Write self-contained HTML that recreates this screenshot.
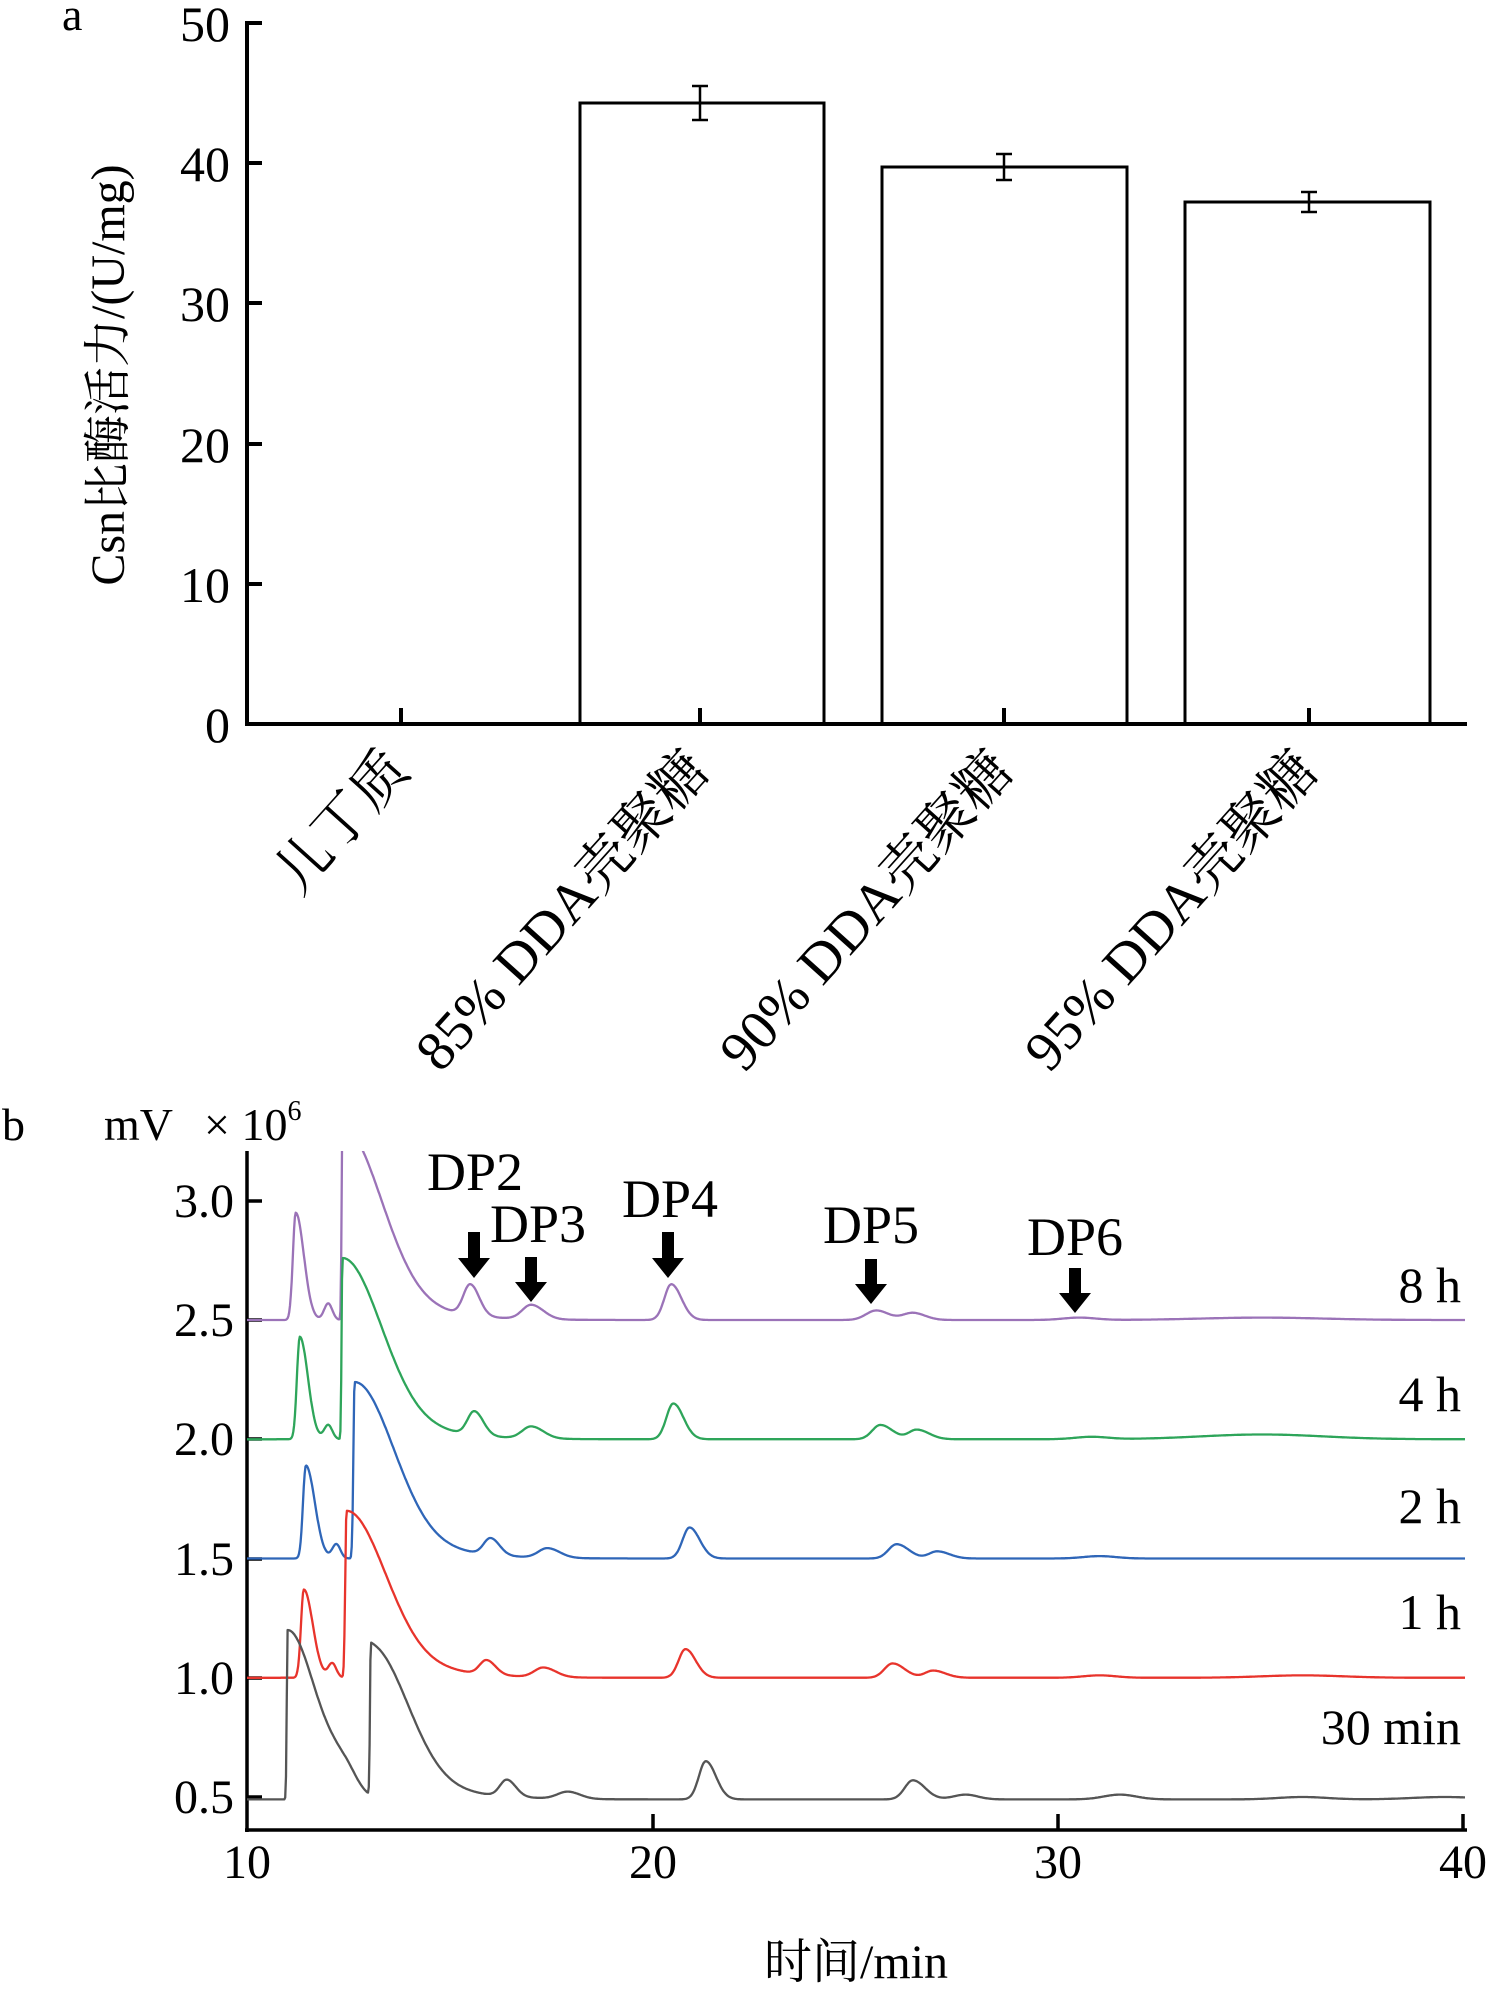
<!DOCTYPE html>
<html><head><meta charset="utf-8">
<style>
html,body{margin:0;padding:0;background:#fff;}
svg{display:block;}
text{font-family:"Liberation Serif","Noto Serif CJK SC","Noto Sans CJK SC",serif;fill:#000;}
</style></head>
<body>
<svg id="s" width="1490" height="1989" viewBox="0 0 1490 1989" xmlns="http://www.w3.org/2000/svg">
<defs><clipPath id="cp"><rect x="247" y="1151" width="1220" height="680"/></clipPath></defs>
<!-- Panel a -->
<text x="62" y="30" font-size="46">a</text>
<g stroke="#000" stroke-width="4" fill="none">
<line x1="247" y1="21" x2="247" y2="726"/>
<line x1="245" y1="724" x2="1467" y2="724"/>
<line x1="247" y1="23" x2="262" y2="23"/>
<line x1="247" y1="163" x2="262" y2="163"/>
<line x1="247" y1="303" x2="262" y2="303"/>
<line x1="247" y1="444" x2="262" y2="444"/>
<line x1="247" y1="584" x2="262" y2="584"/>
<line x1="401" y1="724" x2="401" y2="708"/>
<line x1="700" y1="724" x2="700" y2="708"/>
<line x1="1004" y1="724" x2="1004" y2="708"/>
<line x1="1309" y1="724" x2="1309" y2="708"/>
<rect x="580" y="103" width="244" height="621" stroke-width="3"/>
<rect x="882" y="167" width="245" height="557" stroke-width="3"/>
<rect x="1185" y="202" width="245" height="522" stroke-width="3"/>
</g>
<g stroke="#000" stroke-width="2.5">
<line x1="700" y1="86" x2="700" y2="120"/><line x1="692" y1="86" x2="708" y2="86"/><line x1="692" y1="120" x2="708" y2="120"/>
<line x1="1004" y1="154" x2="1004" y2="180"/><line x1="996" y1="154" x2="1012" y2="154"/><line x1="996" y1="180" x2="1012" y2="180"/>
<line x1="1309" y1="192" x2="1309" y2="212"/><line x1="1301" y1="192" x2="1317" y2="192"/><line x1="1301" y1="212" x2="1317" y2="212"/>
</g>
<g font-size="50" text-anchor="end">
<text x="230" y="41">50</text>
<text x="230" y="181">40</text>
<text x="230" y="321">30</text>
<text x="230" y="462">20</text>
<text x="230" y="602">10</text>
<text x="230" y="742">0</text>
</g>
<text transform="translate(124,375) rotate(-90)" font-size="48" text-anchor="middle">Csn比酶活力/(U/mg)</text>
<g font-size="56" text-anchor="end">
<text transform="translate(412,772) rotate(-48)">儿丁质</text>
<text transform="translate(712,772) rotate(-48)">85% DDA壳聚糖</text>
<text transform="translate(1016,772) rotate(-48)">90% DDA壳聚糖</text>
<text transform="translate(1321,772) rotate(-48)">95% DDA壳聚糖</text>
</g>
<!-- Panel b -->
<text x="2" y="1140" font-size="46">b</text>
<text x="104" y="1140" font-size="46">mV</text>
<text x="204" y="1140" font-size="46">× 10<tspan font-size="28" dy="-20">6</tspan></text>
<g stroke="#000" stroke-width="3.5" fill="none">
<line x1="247" y1="1151" x2="247" y2="1832"/>
<line x1="245" y1="1830" x2="1467" y2="1830"/>
<line x1="247" y1="1201" x2="262" y2="1201"/>
<line x1="247" y1="1320" x2="262" y2="1320"/>
<line x1="247" y1="1439" x2="262" y2="1439"/>
<line x1="247" y1="1559" x2="262" y2="1559"/>
<line x1="247" y1="1678" x2="262" y2="1678"/>
<line x1="247" y1="1797" x2="262" y2="1797"/>
<line x1="653" y1="1830" x2="653" y2="1814"/>
<line x1="1058" y1="1830" x2="1058" y2="1814"/>
<line x1="1463" y1="1830" x2="1463" y2="1814"/>
</g>
<g font-size="48" text-anchor="end">
<text x="234" y="1217">3.0</text>
<text x="234" y="1336">2.5</text>
<text x="234" y="1455">2.0</text>
<text x="234" y="1575">1.5</text>
<text x="234" y="1694">1.0</text>
<text x="234" y="1813">0.5</text>
</g>
<g font-size="48" text-anchor="middle">
<text x="247" y="1878">10</text>
<text x="653" y="1878">20</text>
<text x="1058" y="1878">30</text>
<text x="1463" y="1878">40</text>
</g>
<text x="856" y="1978" font-size="48" text-anchor="middle">时间/min</text>
<g font-size="50" text-anchor="end">
<text x="1461" y="1302">8 h</text>
<text x="1461" y="1411">4 h</text>
<text x="1461" y="1523">2 h</text>
<text x="1461" y="1629">1 h</text>
<text x="1461" y="1744">30 min</text>
</g>
<g font-size="54">
<text x="427" y="1190">DP2</text>
<text x="490" y="1242">DP3</text>
<text x="622" y="1217">DP4</text>
<text x="823" y="1243">DP5</text>
<text x="1027" y="1255">DP6</text>
</g>
<g fill="#000" id="arrows"></g>
<g id="traces" clip-path="url(#cp)" fill="none" stroke-width="2.3" stroke-linejoin="round"></g>
</svg>
<script>
(function(){
var NS="http://www.w3.org/2000/svg";
function X(t){return 247+(t-10)*40.6;}
function Y(v){return 1797-(v-0.5)*238.5;}
var arrows=[[474,1232,1278],[531,1257,1302],[668,1232,1278],[871,1259,1304],[1075,1268,1313]];
var ag=document.getElementById("arrows");
arrows.forEach(function(a){
 var x=a[0],t=a[1],b=a[2];
 var p=document.createElementNS(NS,"polygon");
 var hh=20;
 p.setAttribute("points",[x-6,t, x+6,t, x+6,b-hh, x+16,b-hh, x,b, x-16,b-hh, x-6,b-hh].join(","));
 ag.appendChild(p);
});
var traces=[
 {c:"#9b73b8",b:2.5,p:[[11.2,0.45,0.07,0.2],[12.0,0.07,0.1,0.1],[12.35,0.75,0.02,0.95],[12.35,0.06,0.02,2.0],[15.5,0.13,0.17,0.22],[17.0,0.06,0.22,0.3],[20.45,0.15,0.17,0.25],[25.5,0.04,0.25,0.3],[26.4,0.03,0.25,0.3],[30.5,0.01,0.4,0.4],[35,0.01,1.5,1.5]]},
 {c:"#2ea55a",b:2.0,p:[[11.3,0.43,0.07,0.2],[12.0,0.06,0.1,0.1],[12.35,0.70,0.02,0.95],[12.35,0.06,0.02,2.0],[15.6,0.1,0.17,0.22],[17.0,0.05,0.22,0.3],[20.5,0.15,0.17,0.25],[25.6,0.06,0.2,0.3],[26.5,0.04,0.2,0.3],[30.8,0.01,0.4,0.4],[35,0.02,1.5,1.5]]},
 {c:"#2f66b8",b:1.5,p:[[11.45,0.39,0.07,0.22],[12.2,0.06,0.1,0.1],[12.65,0.68,0.03,0.95],[12.65,0.06,0.03,2.0],[16.0,0.07,0.17,0.22],[17.4,0.04,0.22,0.3],[20.9,0.13,0.17,0.25],[26.0,0.06,0.2,0.3],[27.0,0.03,0.2,0.3],[31,0.01,0.4,0.4]]},
 {c:"#e8342c",b:1.0,p:[[11.4,0.37,0.07,0.22],[12.1,0.06,0.1,0.1],[12.45,0.64,0.03,0.95],[12.45,0.06,0.03,2.0],[15.9,0.06,0.17,0.22],[17.3,0.04,0.22,0.3],[20.8,0.12,0.17,0.25],[25.9,0.06,0.2,0.3],[26.9,0.03,0.2,0.3],[31,0.01,0.4,0.4],[36,0.01,1,1]]},
 {c:"#555555",b:0.49,p:[[11.0,0.71,0.02,0.7],[12.4,0.09,0.4,0.3],[13.05,0.59,0.02,0.9],[13.05,0.05,0.02,2.0],[16.4,0.07,0.17,0.22],[17.9,0.03,0.25,0.3],[21.3,0.16,0.17,0.25],[26.4,0.08,0.2,0.3],[27.7,0.02,0.3,0.3],[31.5,0.02,0.4,0.4],[36,0.01,0.6,0.6],[39.5,0.01,0.8,0.8]]}
];
var tg=document.getElementById("traces");
traces.forEach(function(tr){
 var d="";
 for(var t=10;t<=40.001;t+=0.02){
  var v=tr.b;
  tr.p.forEach(function(p){var s=t<p[0]?p[2]:p[3];var dt=t-p[0];v+=p[1]*Math.exp(-dt*dt/(2*s*s));});
  d+=(d?"L":"M")+X(t).toFixed(1)+" "+Y(v).toFixed(1);
 }
 var path=document.createElementNS(NS,"path");
 path.setAttribute("d",d);path.setAttribute("stroke",tr.c);
 tg.appendChild(path);
});
})();
</script>
</body></html>
